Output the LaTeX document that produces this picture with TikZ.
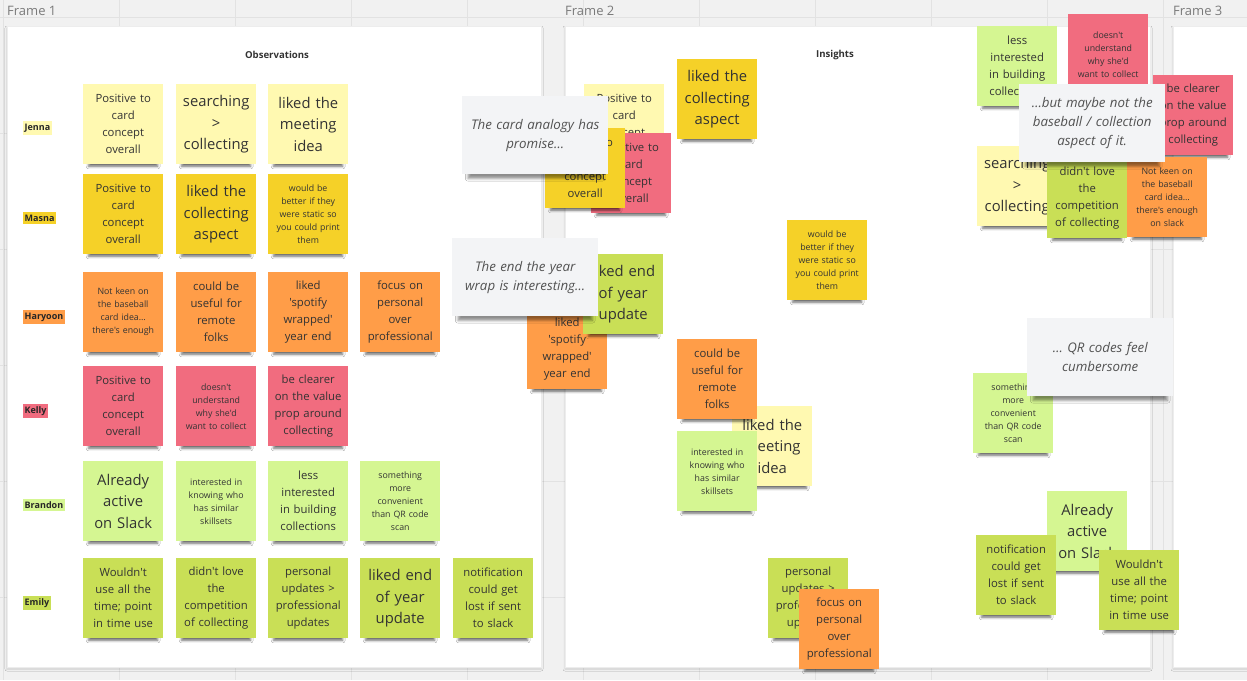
\documentclass[tikz,border=0pt]{standalone}
\usepackage{fontspec}
\newfontfamily\boardfont{Open Sans}
\usepackage{tikz}
\usetikzlibrary{shadows.blur}
\definecolor{bgGray}{HTML}{F1F1F1}
\definecolor{gridGray}{HTML}{E2E2E2}
\definecolor{stLight}{HTML}{FFF9B1}
\definecolor{stYellow}{HTML}{F5D128}
\definecolor{stOrange}{HTML}{FF9D48}
\definecolor{stRed}{HTML}{F16C7F}
\definecolor{stLime}{HTML}{D5F692}
\definecolor{stGreen}{HTML}{C9DF56}
\definecolor{cardGray}{HTML}{F3F4F6}
\definecolor{inkDark}{HTML}{333333}
\newcommand{\txtS}{\boardfont\fontsize{8.8}{13}\selectfont}
\newcommand{\txtM}{\boardfont\fontsize{11.3}{17}\selectfont}
\newcommand{\txtL}{\boardfont\fontsize{14.8}{21.5}\selectfont}
\newcommand{\txtW}{\boardfont\bfseries\fontsize{9}{10}\selectfont}
\newcommand{\txtT}{\boardfont\bfseries\fontsize{9.6}{11}\selectfont}
\newcommand{\txtC}{\boardfont\itshape\fontsize{13.3}{19}\selectfont}
\tikzset{
  note/.style={anchor=north west, minimum width=80pt, minimum height=80pt, text width=77pt,
    align=center, inner sep=0pt, text=inkDark,
    blur shadow={shadow xshift=0pt, shadow yshift=-9pt, shadow scale=0.86, shadow blur radius=3pt, shadow opacity=60}},
  card/.style={anchor=north west, fill=cardGray, minimum width=146pt, minimum height=78pt, text width=140pt,
    align=center, inner sep=0pt, font=\txtC, text=black!68,
    blur shadow={shadow xshift=0pt, shadow yshift=-8pt, shadow scale=0.92, shadow blur radius=3pt, shadow opacity=45}},
  who/.style={anchor=west, inner xsep=1.5pt, inner ysep=2.5pt, font=\txtW, text=black!85},
  txS/.style={font=\txtS}, txM/.style={font=\txtM}, txL/.style={font=\txtL},
  frame/.style={fill=white, draw=black!7,
    blur shadow={shadow xshift=0pt, shadow yshift=-2pt, shadow blur radius=2pt, shadow opacity=15}}
}
\begin{document}
\begin{tikzpicture}[x=1pt, y=-1pt]
\useasboundingbox (0,0) rectangle (1247,680);
% board and grid
\fill[bgGray] (0,0) rectangle (1247,680);
\foreach \gx in {3,119,...,1247} \draw[gridGray, thin] (\gx,0) -- (\gx,680);
\foreach \gy in {17,133,...,680} \draw[gridGray, thin] (0,\gy) -- (1247,\gy);
% frames
\node[anchor=base west, font=\boardfont\fontsize{13}{15}\selectfont, text=black!52, inner sep=0pt] (f1lab) at (7,15) {Frame 1};
\node[anchor=base west, font=\boardfont\fontsize{13}{15}\selectfont, text=black!52, inner sep=0pt] (f2lab) at (565,15) {Frame 2};
\node[anchor=base west, font=\boardfont\fontsize{13}{15}\selectfont, text=black!52, inner sep=0pt] (f3lab) at (1173,15) {Frame 3};
\path[frame] (7,26) rectangle (541,667);
\path[frame] (565,26) rectangle (1150,667);
\path[frame] (1173,26) rectangle (1252,667);
\node[font=\txtT, text=black!80] (obs) at (277,55) {Observations};
\node[font=\txtT, text=black!80] (ins) at (835,55) {Insights};
% row names
\node[who, fill=stLight] (jenna) at (23,128) {Jenna};
\node[who, fill=stYellow] (masna) at (23,218) {Masna};
\node[who, fill=stOrange] (haryoon) at (23,317) {Haryoon};
\node[who, fill=stRed] (kelly) at (23,411) {Kelly};
\node[who, fill=stLime] (brandon) at (23,505) {Brandon};
\node[who, fill=stGreen] (emily) at (23,603) {Emily};
% observation notes
\node[note, fill=stLight, txM] (o11) at (83,84) {Positive to\\card\\concept\\overall};
\node[note, fill=stLight, txL] (o12) at (176,84) {searching\\>\\collecting};
\node[note, fill=stLight, txL] (o13) at (268,84) {liked the\\meeting\\idea};
\node[note, fill=stYellow, txM] (o21) at (83,174) {Positive to\\card\\concept\\overall};
\node[note, fill=stYellow, txL] (o22) at (176,174) {liked the\\collecting\\aspect};
\node[note, fill=stYellow, txS] (o23) at (268,174) {would be\\better if they\\were static so\\you could print\\them};
\node[note, fill=stOrange, txS] (o31) at (83,272) {Not keen on\\the baseball\\card idea…\\there's enough};
\node[note, fill=stOrange, txM] (o32) at (176,272) {could be\\useful for\\remote\\folks};
\node[note, fill=stOrange, txM] (o33) at (268,272) {liked\\'spotify\\wrapped'\\year end};
\node[note, fill=stOrange, txM] (o34) at (360,272) {focus on\\personal\\over\\professional};
\node[note, fill=stRed, txM] (o41) at (83,366) {Positive to\\card\\concept\\overall};
\node[note, fill=stRed, txS] (o42) at (176,366) {doesn't\\understand\\why she'd\\want to collect};
\node[note, fill=stRed, txM] (o43) at (268,366) {be clearer\\on the value\\prop around\\collecting};
\node[note, fill=stLime, txL] (o51) at (83,461) {Already\\active\\on Slack};
\node[note, fill=stLime, txS] (o52) at (176,461) {interested in\\knowing who\\has similar\\skillsets};
\node[note, fill=stLime, txM] (o53) at (268,461) {less\\interested\\in building\\collections};
\node[note, fill=stLime, txS] (o54) at (360,461) {something\\more\\convenient\\than QR code\\scan};
\node[note, fill=stGreen, txM] (o61) at (83,558) {Wouldn't\\use all the\\time; point\\in time use};
\node[note, fill=stGreen, txM] (o62) at (176,558) {didn't love\\the\\competition\\of collecting};
\node[note, fill=stGreen, txM] (o63) at (268,558) {personal\\updates >\\professional\\updates};
\node[note, fill=stGreen, txL] (o64) at (360,558) {liked end\\of year\\update};
\node[note, fill=stGreen, txM] (o65) at (453,558) {notification\\could get\\lost if sent\\to slack};
% insight clusters
\node[note, fill=stLight, txM] (i01) at (584,84) {Positive to\\card\\concept\\overall};
\node[note, fill=stYellow, txL] (i02) at (677,59) {liked the\\collecting\\aspect};
\node[note, fill=stRed, txM] (i03) at (591,133) {Positive to\\card\\concept\\overall};
\node[note, fill=stYellow, txM] (i04) at (545,128) {Positive to\\card\\concept\\overall};
\node[card] (c1) at (462,96) {The card analogy has\\promise…};
\node[note, fill=stOrange, txM] (i05) at (527,309) {liked\\'spotify\\wrapped'\\year end};
\node[note, fill=stGreen, txL] (i06) at (583,254) {liked end\\of year\\update};
\node[card] (c2) at (452,238) {The end the year\\wrap is interesting…};
\node[note, fill=stYellow, txS] (i07) at (787,220) {would be\\better if they\\were static so\\you could print\\them};
\node[note, fill=stLight, txL] (i08) at (732,406) {liked the\\meeting\\idea};
\node[note, fill=stOrange, txM] (i09) at (677,339) {could be\\useful for\\remote\\folks};
\node[note, fill=stLime, txS] (i10) at (677,431) {interested in\\knowing who\\has similar\\skillsets};
\node[note, fill=stGreen, txM] (i11) at (768,558) {personal\\updates >\\professional\\updates};
\node[note, fill=stOrange, txM] (i12) at (799,589) {focus on\\personal\\over\\professional};
\node[note, fill=stLime, txM] (i13) at (977,26) {less\\interested\\in building\\collections};
\node[note, fill=stRed, txS] (i14) at (1068,14) {doesn't\\understand\\why she'd\\want to collect};
\node[note, fill=stRed, txM] (i15) at (1153,75) {be clearer\\on the value\\prop around\\collecting};
\node[note, fill=stLight, txL] (i16) at (977,146) {searching\\>\\collecting};
\node[note, fill=stGreen, txM] (i17) at (1047,158) {didn't love\\the\\competition\\of collecting};
\node[note, fill=stOrange, txS] (i18) at (1127,157) {Not keen on\\the baseball\\card idea…\\there's enough\\on slack};
\node[card] (c3) at (1019,84) {…but maybe not the\\baseball / collection\\aspect of it.};
\node[note, fill=stLime, txS] (i19) at (973,373) {something\\more\\convenient\\than QR code\\scan};
\node[card] (c4) at (1027,318) {… QR codes feel\\cumbersome};
\node[note, fill=stLime, txL] (i20) at (1047,491) {Already\\active\\on Slack};
\node[note, fill=stGreen, txM] (i21) at (976,535) {notification\\could get\\lost if sent\\to slack};
\node[note, fill=stGreen, txM] (i22) at (1099,550) {Wouldn't\\use all the\\time; point\\in time use};
\end{tikzpicture}
\end{document}
